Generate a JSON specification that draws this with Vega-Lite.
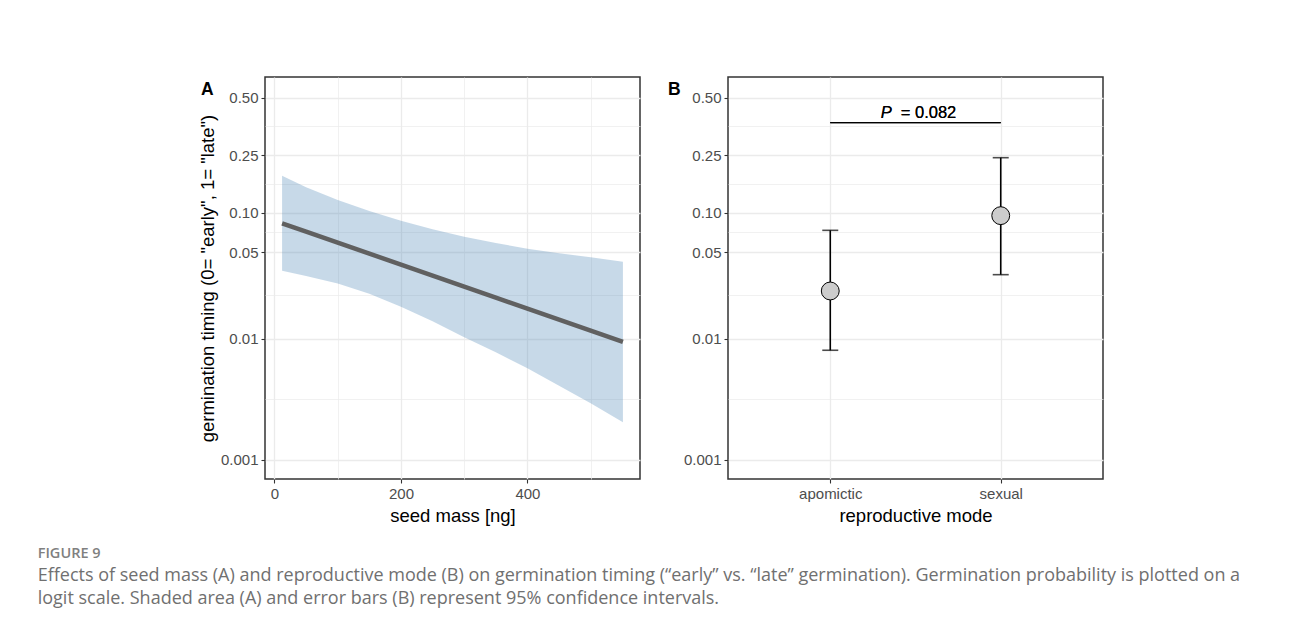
{
  "$schema": "https://vega.github.io/schema/vega-lite/v6.json",
  "background": "white",
  "padding": {"left": 37, "top": 76, "right": 20, "bottom": 10},
  "config": {
    "view": {"stroke": "#333333", "strokeWidth": 1.5},
    "axis": {
      "domain": false,
      "tickColor": "#333333",
      "tickWidth": 1.1,
      "tickSize": 4,
      "labelFont": "Liberation Sans",
      "labelFontSize": 15,
      "labelColor": "#4d4d4d",
      "labelPadding": 3,
      "titleFont": "Liberation Sans",
      "titleFontSize": 18.5,
      "titleFontWeight": "normal",
      "titleColor": "#000000",
      "gridColor": "#ebebeb",
      "gridWidth": 1.3
    }
  },
  "title": {
    "text": "FIGURE 9",
    "subtitle": [
      "Effects of seed mass (A) and reproductive mode (B) on germination timing (“early” vs. “late” germination). Germination probability is plotted on a",
      "logit scale. Shaded area (A) and error bars (B) represent 95% confidence intervals."
    ],
    "orient": "bottom",
    "anchor": "start",
    "frame": "bounds",
    "font": "Open Sans",
    "fontSize": 14.5,
    "fontWeight": 600,
    "color": "#808080",
    "subtitleFont": "Open Sans",
    "subtitleFontSize": 18,
    "subtitleColor": "#707070",
    "subtitleLineHeight": 23.5,
    "subtitlePadding": 5,
    "offset": 22,
    "dx": -160
  },
  "spacing": 26,
  "hconcat": [
    {
      "width": 375,
      "height": 402,
      "title": {"text": "A", "anchor": "start", "frame": "group", "dx": -64, "dy": 25, "font": "Liberation Sans", "fontSize": 17.5, "fontWeight": "bold", "color": "#000000"},
      "data": {"values": [
        {"seed_mass": 12, "logit_fit": -2.395, "logit_lower": -3.299, "logit_upper": -1.488},
        {"seed_mass": 50, "logit_fit": -2.555, "logit_lower": -3.400, "logit_upper": -1.709},
        {"seed_mass": 100, "logit_fit": -2.764, "logit_lower": -3.545, "logit_upper": -1.951},
        {"seed_mass": 150, "logit_fit": -2.974, "logit_lower": -3.740, "logit_upper": -2.161},
        {"seed_mass": 200, "logit_fit": -3.184, "logit_lower": -3.985, "logit_upper": -2.346},
        {"seed_mass": 250, "logit_fit": -3.394, "logit_lower": -4.264, "logit_upper": -2.510},
        {"seed_mass": 300, "logit_fit": -3.604, "logit_lower": -4.568, "logit_upper": -2.651},
        {"seed_mass": 350, "logit_fit": -3.814, "logit_lower": -4.854, "logit_upper": -2.771},
        {"seed_mass": 400, "logit_fit": -4.024, "logit_lower": -5.159, "logit_upper": -2.880},
        {"seed_mass": 450, "logit_fit": -4.234, "logit_lower": -5.491, "logit_upper": -2.967},
        {"seed_mass": 500, "logit_fit": -4.444, "logit_lower": -5.826, "logit_upper": -3.043},
        {"seed_mass": 551, "logit_fit": -4.658, "logit_lower": -6.189, "logit_upper": -3.127}
      ]},
      "layer": [
        {
          "mark": {"type": "area", "color": "steelblue", "opacity": 0.3},
          "encoding": {
            "x": {"field": "seed_mass", "type": "quantitative",
                  "scale": {"domain": [-15, 578], "nice": false, "zero": false},
                  "axis": {"orient": "bottom", "values": [100, 300, 500], "grid": true, "gridWidth": 0.7, "labels": false, "ticks": false, "title": null, "minExtent": 0}},
            "y": {"field": "logit_lower", "type": "quantitative",
                  "scale": {"domain": [-7.27, 0.393], "nice": false, "zero": false},
                  "axis": {"orient": "left", "values": [-0.5493, -1.6479, -2.5708, -3.7698, -5.7509], "grid": true, "gridWidth": 0.7, "labels": false, "ticks": false, "title": null, "minExtent": 0}},
            "y2": {"field": "logit_upper"}
          }
        },
        {
          "mark": {"type": "line", "color": "#606060", "strokeWidth": 4.5},
          "encoding": {
            "x": {"field": "seed_mass", "type": "quantitative",
                  "axis": {"orient": "bottom", "values": [0, 200, 400], "grid": true, "title": "seed mass [ng]", "titlePadding": 5, "minExtent": 0}},
            "y": {"field": "logit_fit", "type": "quantitative",
                  "axis": {"orient": "left", "values": [-6.9068, -4.5951, -2.9444, -2.1972, -1.0986, 0], "grid": true,
                           "labelExpr": "datum.value > -0.5 ? '0.50' : datum.value > -1.5 ? '0.25' : datum.value > -2.5 ? '0.10' : datum.value > -3.5 ? '0.05' : datum.value > -5 ? '0.01' : '0.001'",
                           "title": "germination timing (0= \"early\", 1= \"late\")", "titlePadding": 3, "minExtent": 0}}
          }
        }
      ],
      "resolve": {"axis": {"x": "independent", "y": "independent"}}
    },
    {
      "width": 375,
      "height": 402,
      "title": {"text": "B", "anchor": "start", "frame": "group", "dx": -60, "dy": 25, "font": "Liberation Sans", "fontSize": 17.5, "fontWeight": "bold", "color": "#000000"},
      "data": {"values": [
        {"mode": "apomictic", "logit_fit": -3.686, "logit_lower": -4.816, "logit_upper": -2.530},
        {"mode": "sexual", "logit_fit": -2.250, "logit_lower": -3.375, "logit_upper": -1.145}
      ]},
      "layer": [
        {
          "mark": {"type": "rule", "color": "#000000", "strokeWidth": 1.6},
          "encoding": {
            "x": {"field": "mode", "type": "nominal",
                  "scale": {"type": "point", "padding": 0.6},
                  "axis": {"orient": "bottom", "grid": true, "labelAngle": 0, "title": "reproductive mode", "titlePadding": 5, "minExtent": 0}},
            "y": {"field": "logit_lower", "type": "quantitative",
                  "scale": {"domain": [-7.27, 0.393], "nice": false, "zero": false},
                  "axis": {"orient": "left", "values": [-0.5493, -1.6479, -2.5708, -3.7698, -5.7509], "grid": true, "gridWidth": 0.7, "labels": false, "ticks": false, "title": null, "minExtent": 0}},
            "y2": {"field": "logit_upper"}
          }
        },
        {
          "layer": [
            {
              "mark": {"type": "tick", "color": "#000000", "size": 16, "thickness": 1.6, "orient": "horizontal"},
              "encoding": {
                "x": {"field": "mode", "type": "nominal"},
                "y": {"field": "logit_lower", "type": "quantitative",
                      "axis": {"orient": "left", "values": [-6.9068, -4.5951, -2.9444, -2.1972, -1.0986, 0], "grid": true,
                               "labelExpr": "datum.value > -0.5 ? '0.50' : datum.value > -1.5 ? '0.25' : datum.value > -2.5 ? '0.10' : datum.value > -3.5 ? '0.05' : datum.value > -5 ? '0.01' : '0.001'",
                               "title": null, "minExtent": 0}}
              }
            },
            {
              "mark": {"type": "tick", "color": "#000000", "size": 16, "thickness": 1.6, "orient": "horizontal"},
              "encoding": {
                "x": {"field": "mode", "type": "nominal"},
                "y": {"field": "logit_upper", "type": "quantitative"}
              }
            },
            {
              "mark": {"type": "point", "shape": "circle", "filled": true, "fill": "#cccccc", "stroke": "#000000", "strokeWidth": 1, "opacity": 1, "size": 320},
              "encoding": {
                "x": {"field": "mode", "type": "nominal"},
                "y": {"field": "logit_fit", "type": "quantitative"}
              }
            },
            {
              "mark": {"type": "rule", "color": "#000000", "strokeWidth": 1.2},
              "encoding": {
                "x": {"datum": "apomictic", "type": "nominal"},
                "x2": {"datum": "sexual"},
                "y": {"datum": -0.478, "type": "quantitative"}
              }
            },
            {
              "mark": {"type": "text", "text": "P", "font": "Liberation Sans", "fontSize": 16.5, "fontStyle": "italic", "color": "#000000", "align": "left", "baseline": "alphabetic", "dx": 50.5, "dy": -4.4},
              "encoding": {
                "x": {"datum": "apomictic", "type": "nominal"},
                "y": {"datum": -0.478, "type": "quantitative"}
              }
            },
            {
              "mark": {"type": "text", "text": "= 0.082", "font": "Liberation Sans", "fontSize": 16.5, "color": "#000000", "align": "left", "baseline": "alphabetic", "dx": 70.5, "dy": -4.4},
              "encoding": {
                "x": {"datum": "apomictic", "type": "nominal"},
                "y": {"datum": -0.478, "type": "quantitative"}
              }
            }
          ]
        }
      ],
      "resolve": {"axis": {"y": "independent"}}
    }
  ]
}
